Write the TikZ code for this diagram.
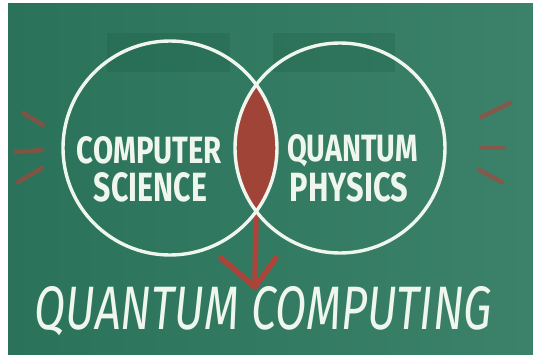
\documentclass[tikz,border=0pt]{standalone}
\usepackage{fontspec}
\setmainfont{Fira Sans}
\usepackage{graphicx}
\definecolor{boardA}{RGB}{42,114,90}
\definecolor{boardB}{RGB}{60,130,106}
\definecolor{patch}{RGB}{30,96,72}
\definecolor{chalkwhite}{RGB}{238,246,238}
\definecolor{chalkred}{RGB}{172,68,58}
\definecolor{lensred}{RGB}{160,68,56}
\begin{document}
\begin{tikzpicture}[x=1pt,y=-1pt,
  chalkline/.style={draw=chalkwhite, line width=3.4pt},
  redstroke/.style={draw=chalkred, line width=4.5pt, line cap=round, opacity=0.65},
  redarrow/.style={draw=chalkred, line width=5.5pt, line cap=round, line join=round},
  label/.style={text=chalkwhite, inner sep=0pt, font=\bfseries},
  bigtext/.style={text=chalkwhite, inner sep=0pt, font=\itshape}]
\useasboundingbox (0,0) rectangle (533,354);
\fill[white] (0,0) rectangle (533,354);
\shade[left color=boardA, right color=boardB] (8,3) rectangle (533,354);
% dark patches
\fill[patch, opacity=0.3] (107,33) rectangle (230,72);
\fill[patch, opacity=0.3] (273,33) rectangle (395,72);
% circle nodes
\node[circle, minimum size=214pt, inner sep=0pt] (cs) at (170,148) {};
\node[circle, minimum size=210pt, inner sep=0pt] (qp) at (340,148) {};
% lens
\begin{scope}
  \clip (170,148) circle[radius=107pt];
  \fill[lensred] (340,148) circle[radius=105pt];
\end{scope}
% arrow
\coordinate (lensbot) at (256,211);
\coordinate (tip) at (255,287);
\coordinate (wl) at (221,258);
\coordinate (wr) at (276,258);
\draw[redarrow] (lensbot) -- (tip);
\draw[redarrow] (wl) -- (tip) -- (wr);
% circles
\draw[chalkline] (cs.center) circle[radius=107pt];
\draw[chalkline] (qp.center) circle[radius=105pt];
% red strokes
\draw[redstroke] (23,113) -- (43,125);
\draw[redstroke] (16,152) -- (42,150);
\draw[redstroke] (18,182) -- (42,168);
\draw[redstroke] (481,117) -- (510,103);
\draw[redstroke] (481,148) -- (503,148);
\draw[redstroke] (479,170) -- (502,182);
% texts
\node[label] (t1) at (149.5,150.5) {\resizebox{145pt}{27pt}{COMPUTER}};
\node[label] (t2) at (150.5,187.5) {\resizebox{113pt}{29pt}{SCIENCE}};
\node[label] (t3) at (352.5,150.5) {\resizebox{131pt}{27pt}{QUANTUM}};
\node[label] (t4) at (349,187.5) {\resizebox{118pt}{29pt}{PHYSICS}};
\node[bigtext] (t5) at (263.5,311.5) {\resizebox{457pt}{43pt}{QUANTUM COMPUTING}};
\end{tikzpicture}
\end{document}
